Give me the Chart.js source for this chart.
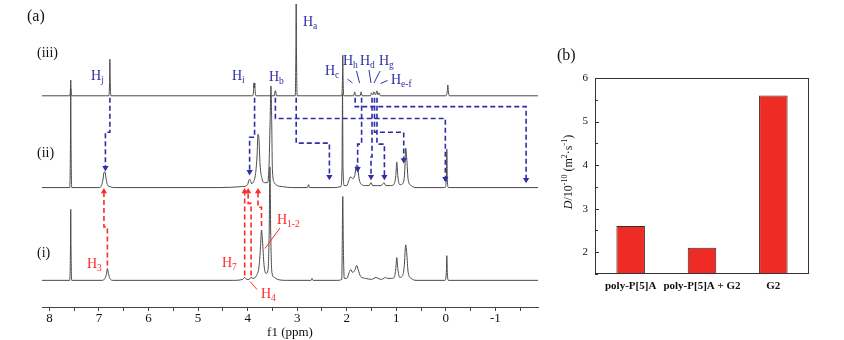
<!DOCTYPE html>
<html>
<head>
<meta charset="utf-8">
<script src="https://cdn.jsdelivr.net/npm/chart.js@4/dist/chart.umd.min.js"></script>
<style>
  body { margin: 0; background: #fff; }
  #wrap { position: relative; width: 844px; height: 340px; overflow: hidden; }
  #nmr { position: absolute; left: 0; top: 0; }
  #diff { position: absolute; left: 540px; top: 0; }
</style>
</head>
<body>
<div id="wrap">
  <canvas id="nmr" width="560" height="340"></canvas>
  <canvas id="diff" width="304" height="340"></canvas>
</div>
<script>
// ---- data: 1H NMR spectra, [ppm, intensity] ----
const ppmTicks = [8, 7, 6, 5, 4, 3, 2, 1, 0, -1];

// (iii) G2 alone
const spectrumIII = [
  [8.15, 0], [7.59, 0], [7.575, 8], [7.57, 16], [7.565, 8], [7.55, 0],
  [6.80, 0], [6.785, 18], [6.78, 37], [6.775, 18], [6.76, 0],
  [3.90, 0], [3.88, 6], [3.875, 13], [3.865, 8], [3.855, 13], [3.85, 6], [3.83, 0],
  [3.46, 0], [3.445, 5], [3.435, 5], [3.42, 0],
  [3.04, 0], [3.025, 50], [3.02, 100], [3.015, 50], [3.00, 0],
  [2.10, 0], [2.085, 20], [2.08, 41], [2.075, 20], [2.06, 0],
  [1.86, 0], [1.84, 4], [1.82, 0],
  [1.73, 0], [1.71, 4], [1.69, 0],
  [1.52, 0], [1.50, 3], [1.47, 1], [1.45, 4], [1.42, 1], [1.39, 5], [1.37, 1], [1.35, 3], [1.32, 0],
  [0.00, 0], [-0.03, 5], [-0.04, 11], [-0.05, 5], [-0.07, 0],
  [-1.86, 0]
];

// (ii) poly-P[5]A + G2
const spectrumII = [
  [8.15, 0], [7.59, 0], [7.575, 50], [7.57, 100], [7.565, 50], [7.55, 0],
  [7.00, 0], [6.95, 2], [6.92, 8], [6.90, 15], [6.88, 16], [6.86, 10], [6.83, 3], [6.78, 1], [6.70, 0],
  [4.60, 0], [4.10, 1], [4.00, 3], [3.97, 8], [3.95, 8], [3.92, 4], [3.88, 6], [3.84, 14],
  [3.81, 32], [3.79, 54], [3.77, 48], [3.75, 24], [3.71, 9], [3.66, 5], [3.60, 5],
  [3.57, 20], [3.545, 70], [3.53, 103], [3.515, 70], [3.50, 18], [3.46, 5], [3.40, 2], [3.30, 1], [3.10, 0],
  [2.79, 0], [2.77, 3], [2.75, 0],
  [2.25, 0], [2.12, 1], [2.095, 20], [2.085, 95], [2.075, 20], [2.05, 2], [2.00, 2],
  [1.96, 7], [1.92, 11], [1.88, 9], [1.84, 12], [1.80, 23], [1.78, 21], [1.75, 9], [1.70, 3],
  [1.62, 2], [1.55, 2], [1.51, 5], [1.48, 2], [1.43, 2], [1.38, 2], [1.33, 2], [1.28, 3],
  [1.25, 5], [1.21, 2], [1.12, 2], [1.05, 3], [1.01, 12], [0.99, 26], [0.97, 12], [0.93, 3],
  [0.87, 4], [0.83, 16], [0.81, 40], [0.79, 30], [0.76, 8], [0.70, 2], [0.60, 0],
  [0.02, 0], [-0.01, 8], [-0.02, 39], [-0.03, 8], [-0.05, 0], [-1.86, 0]
];

// (i) poly-P[5]A alone
const spectrumI = [
  [8.15, 0], [7.59, 0], [7.575, 36], [7.57, 72], [7.565, 36], [7.55, 0],
  [6.93, 0], [6.88, 2], [6.85, 6], [6.83, 12], [6.81, 7], [6.78, 2], [6.72, 0],
  [4.30, 0], [4.10, 1], [4.06, 3], [4.02, 1], [3.97, 1], [3.93, 3], [3.89, 2], [3.82, 5],
  [3.77, 14], [3.74, 34], [3.72, 51], [3.70, 40], [3.67, 16], [3.63, 7], [3.59, 10],
  [3.565, 50], [3.55, 115], [3.535, 50], [3.51, 8], [3.46, 3], [3.40, 1], [3.20, 0],
  [2.72, 0], [2.70, 2], [2.68, 0],
  [2.20, 0], [2.10, 1], [2.09, 40], [2.08, 85], [2.07, 40], [2.05, 2], [2.00, 2],
  [1.95, 8], [1.92, 11], [1.88, 8], [1.83, 11], [1.80, 15], [1.77, 11], [1.72, 4], [1.62, 2],
  [1.50, 1], [1.45, 2], [1.41, 3], [1.37, 2], [1.30, 1], [1.25, 2], [1.22, 3], [1.18, 2],
  [1.10, 2], [1.04, 3], [1.01, 12], [0.99, 23], [0.97, 12], [0.93, 3], [0.88, 4], [0.84, 14],
  [0.81, 36], [0.79, 28], [0.76, 8], [0.70, 2], [0.60, 0],
  [0.02, 0], [-0.01, 8], [-0.02, 25], [-0.03, 8], [-0.05, 0], [-1.86, 0]
];

// shift arrows (iii) -> (ii), in ppm / level above the (ii) baseline
const blueArrows = [
  [[6.78, 91], [6.78, 56], [6.87, 56], [6.87, 20]],     // Hj
  [[3.86, 91], [3.86, 51], [3.96, 51], [3.96, 16]],     // Hi
  [[3.44, 91], [3.44, 70], [0.01, 70], [0.01, 9]],      // Hb
  [[3.02, 91], [3.02, 45], [2.35, 45], [2.35, 11]],     // Ha
  [[1.83, 91], [1.83, 82], [-1.62, 82], [-1.62, 8]],    // Hc
  [[1.70, 91], [1.70, 44], [1.78, 44], [1.78, 19]],     // Hh
  [[1.49, 91], [1.49, 31], [1.51, 31], [1.51, 11]],     // Hd
  [[1.44, 91], [1.44, 56], [0.85, 56], [0.85, 28]],     // He-f
  [[1.39, 91], [1.39, 44], [1.24, 44], [1.24, 11]]      // Hg
];

// shift arrows (i) -> (ii), level above the (i) baseline
const redArrows = [
  [[6.83, 15], [6.83, 54], [6.90, 54], [6.90, 90]],     // H3
  [[4.06, 5], [4.06, 90]],                              // H7
  [[3.93, 5], [3.93, 78], [3.99, 78], [3.99, 90]],      // H4
  [[3.72, 55], [3.72, 74], [3.79, 74], [3.79, 90]]      // H1-2
];

// ---- data: diffusion coefficients ----
const samples = ['poly-P[5]A', 'poly-P[5]A + G2', 'G2'];
const diffCoef = [2.6, 2.1, 5.6];
const dTicks = [2, 3, 4, 5, 6];

const SERIF = '"Liberation Serif", "DejaVu Serif", serif';
const BLUE = '#2e2eaa';
const RED = '#ff2a2a';

function toXY(arr) {
  return arr.map(p => ({ x: p[0], y: p[1] }));
}

function spectrumSet(arr, axis) {
  return {
    data: toXY(arr), yAxisID: axis, borderColor: '#4a4a4a', borderWidth: 1,
    pointRadius: 0, cubicInterpolationMode: 'monotone', order: 2
  };
}

function arrowSet(arr, axis, color, up) {
  return {
    data: toXY(arr), yAxisID: axis, borderColor: color, borderWidth: 1.6,
    borderDash: [5, 3], tension: 0, order: 1,
    pointStyle: 'triangle', pointRotation: up ? 0 : 180,
    pointBackgroundColor: color, pointBorderColor: color, pointBorderWidth: 0,
    pointRadius: ctx => (ctx.dataIndex === arr.length - 1 ? 3.6 : 0)
  };
}

// writes H with a subscript
function hLabel(ctx, sub, x, y, color) {
  ctx.fillStyle = color;
  ctx.font = '14px ' + SERIF;
  ctx.textBaseline = 'alphabetic';
  ctx.textAlign = 'left';
  ctx.fillText('H', x, y);
  const w = ctx.measureText('H').width;
  ctx.font = '9.5px ' + SERIF;
  ctx.fillText(sub, x + w, y + 3);
}

function segment(ctx, x1, y1, x2, y2, color) {
  ctx.strokeStyle = color;
  ctx.lineWidth = 1;
  ctx.setLineDash([]);
  ctx.beginPath();
  ctx.moveTo(x1, y1);
  ctx.lineTo(x2, y2);
  ctx.stroke();
}

const nmrNotes = {
  id: 'nmrNotes',
  afterDatasetsDraw(chart) {
    const ctx = chart.ctx;
    ctx.save();
    ctx.fillStyle = '#111';
    ctx.textAlign = 'left';
    ctx.font = '16px ' + SERIF;
    ctx.fillText('(a)', 27, 21);
    ctx.font = '14px ' + SERIF;
    ctx.fillText('(iii)', 37, 57);
    ctx.fillText('(ii)', 37, 157);
    ctx.fillText('(i)', 37, 257);

    hLabel(ctx, 'j', 91, 80, BLUE);
    hLabel(ctx, 'i', 232, 80, BLUE);
    hLabel(ctx, 'b', 269, 81, BLUE);
    hLabel(ctx, 'a', 303, 26, BLUE);
    hLabel(ctx, 'c', 325, 75, BLUE);
    hLabel(ctx, 'h', 343, 65, BLUE);
    hLabel(ctx, 'd', 360, 65, BLUE);
    hLabel(ctx, 'g', 379, 65, BLUE);
    hLabel(ctx, 'e-f', 391, 84, BLUE);
    segment(ctx, 347.5, 79, 352.5, 83, BLUE);
    segment(ctx, 356.5, 71, 359.5, 83, BLUE);
    segment(ctx, 369, 70, 371, 83, BLUE);
    segment(ctx, 380, 71, 374, 83, BLUE);
    segment(ctx, 387.5, 80.5, 380.5, 83.5, BLUE);

    hLabel(ctx, '3', 87, 268, RED);
    hLabel(ctx, '7', 222, 267, RED);
    hLabel(ctx, '4', 261, 298, RED);
    hLabel(ctx, '1-2', 277, 224, RED);
    segment(ctx, 250, 281.5, 257, 289.5, RED);
    segment(ctx, 280, 228, 265, 248.5, RED);
    ctx.restore();
  }
};

const nmrDatasets = [
  spectrumSet(spectrumIII, 'y3'),
  spectrumSet(spectrumII, 'y2'),
  spectrumSet(spectrumI, 'y1')
];
blueArrows.forEach(a => nmrDatasets.push(arrowSet(a, 'y2', BLUE, false)));
redArrows.forEach(a => nmrDatasets.push(arrowSet(a, 'y1', RED, true)));

new Chart(document.getElementById('nmr'), {
  type: 'line',
  data: { datasets: nmrDatasets },
  options: {
    responsive: false,
    animation: false,
    events: [],
    layout: { padding: { left: 42, right: 22, top: 0, bottom: 0 } },
    plugins: { legend: { display: false }, tooltip: { enabled: false } },
    scales: {
      x: {
        type: 'linear', reverse: true, min: -1.86, max: 8.15,
        afterFit: s => { s.height = 33; },
        border: { display: true, color: '#444', width: 1 },
        grid: { display: true, drawOnChartArea: false, drawTicks: true, tickLength: 4, color: '#444' },
        ticks: {
          stepSize: 0.5, includeBounds: false, autoSkip: false, maxRotation: 0,
          padding: 0, color: '#111', font: { family: SERIF, size: 13 },
          callback: v => (ppmTicks.includes(Math.round(v)) && Math.abs(v - Math.round(v)) < 1e-6 ? String(Math.round(v)) : '')
        },
        title: {
          display: true, text: 'f1 (ppm)', color: '#111',
          font: { family: SERIF, size: 13 }, padding: { top: 0, bottom: 0 }
        }
      },
      y3: { type: 'linear', display: false, min: -214, max: 93 },
      y2: { type: 'linear', display: false, min: -121, max: 186 },
      y1: { type: 'linear', display: false, min: -27, max: 280 }
    }
  },
  plugins: [nmrNotes]
});

// ---- panel (b) ----
const boxAndTicks = {
  id: 'boxAndTicks',
  afterDatasetsDraw(chart) {
    const { ctx, chartArea } = chart;
    const ys = chart.scales.y;
    ctx.save();
    ctx.strokeStyle = '#333';
    ctx.lineWidth = 1;
    ctx.strokeRect(chartArea.left + 0.5, chartArea.top + 0.5,
      chartArea.right - chartArea.left - 1, chartArea.bottom - chartArea.top - 1);
    ctx.beginPath();
    ys.ticks.forEach(t => {
      const py = Math.round(ys.getPixelForValue(t.value)) + 0.5;
      const len = Number.isInteger(t.value) ? 4 : 3;
      ctx.moveTo(chartArea.left, py);
      ctx.lineTo(chartArea.left + len, py);
    });
    ctx.stroke();

    ctx.fillStyle = '#111';
    ctx.font = '16px ' + SERIF;
    ctx.textAlign = 'left';
    ctx.fillText('(b)', 17, 60);

    // rotated y title with italic D and superscripts
    const parts = [
      { t: 'D', f: 'italic 12px ' + SERIF, s: 0 },
      { t: '/10', f: '12px ' + SERIF, s: 0 },
      { t: '-10', f: '8px ' + SERIF, s: 1 },
      { t: ' (m', f: '12px ' + SERIF, s: 0 },
      { t: '2', f: '8px ' + SERIF, s: 1 },
      { t: '\u00b7s', f: '12px ' + SERIF, s: 0 },
      { t: '-1', f: '8px ' + SERIF, s: 1 },
      { t: ')', f: '12px ' + SERIF, s: 0 }
    ];
    let total = 0;
    parts.forEach(p => { ctx.font = p.f; p.w = ctx.measureText(p.t).width; total += p.w; });
    ctx.translate(28, 172);
    ctx.rotate(-Math.PI / 2);
    let x = -total / 2;
    parts.forEach(p => {
      ctx.font = p.f;
      ctx.fillText(p.t, x, p.s ? -1 : 4);
      x += p.w;
    });
    ctx.restore();
  }
};

new Chart(document.getElementById('diff'), {
  type: 'bar',
  data: {
    labels: samples,
    datasets: [{
      data: diffCoef, backgroundColor: '#ee2b24', borderColor: '#3a2a2a',
      borderWidth: 1, borderSkipped: false, barPercentage: 0.4, categoryPercentage: 1
    }]
  },
  options: {
    responsive: false,
    animation: false,
    events: [],
    layout: { padding: { left: 0, right: 35, top: 78, bottom: 0 } },
    plugins: { legend: { display: false }, tooltip: { enabled: false } },
    scales: {
      x: {
        afterFit: s => { s.height = 66; },
        grid: { display: false, drawTicks: false }, border: { display: false },
        ticks: {
          autoSkip: false, maxRotation: 0, minRotation: 0, padding: 6,
          color: '#111', font: { family: SERIF, size: 11, weight: 'bold' }
        }
      },
      y: {
        min: 1.5, max: 6,
        afterFit: s => { s.width = 55; },
        grid: { display: false, drawTicks: false }, border: { display: false },
        ticks: {
          stepSize: 0.5, autoSkip: false, padding: 7, color: '#111',
          font: { family: SERIF, size: 11 },
          callback: v => (dTicks.includes(v) ? String(v) : '')
        }
      }
    }
  },
  plugins: [boxAndTicks]
});
</script>
</body>
</html>
